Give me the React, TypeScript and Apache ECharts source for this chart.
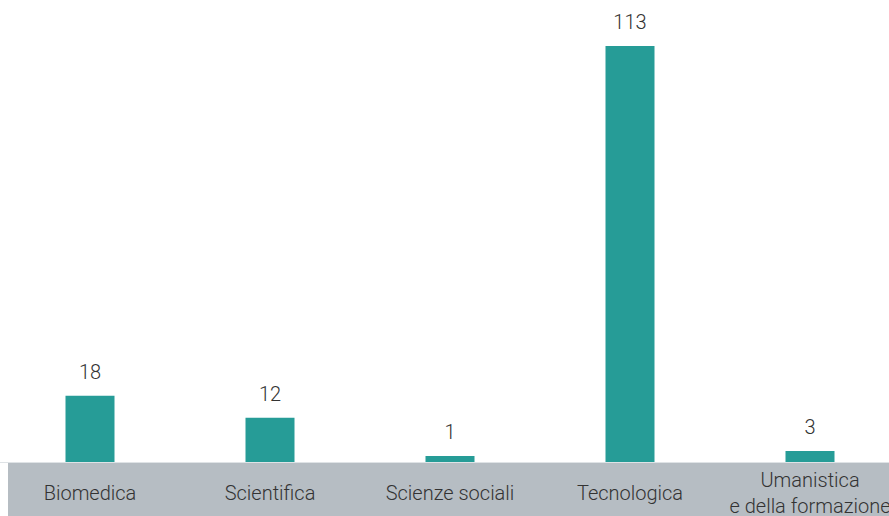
import React, { useEffect, useRef } from "react";
import * as echarts from "echarts";

const categories = ["Biomedica", "Scientifica", "Scienze sociali", "Tecnologica", "Umanistica\ne della formazione"];
const values = [18, 12, 1, 113, 3];

export default function App() {
  const ref = useRef<HTMLDivElement>(null);
  useEffect(() => {
    const chart = echarts.init(ref.current!, undefined, { renderer: "svg" });
    chart.setOption({
      animation: false,
      backgroundColor: "#ffffff",
      graphic: [
        {
          type: "rect",
          z: -10,
          shape: { x: 8, y: 462, width: 900, height: 60 },
          style: { fill: "#b6bdc3" },
        },
      ],
      grid: {
        left: 0,
        top: 46,
        right: 0,
        bottom: 54,
        containLabel: false,
        outerBoundsMode: "none",
      },
      xAxis: {
        type: "category",
        data: categories,
        axisLine: { show: true, lineStyle: { color: "#dfe3e6", width: 1 } },
        axisTick: { show: false },
        axisLabel: {
          interval: 0,
          color: "#333333",
          fontFamily: "Roboto",
          fontWeight: 300,
          fontSize: 20,
          lineHeight: 26,
          verticalAlign: "middle",
          margin: 31,
        },
      },
      yAxis: {
        type: "value",
        min: 0,
        max: 113,
        show: false,
        splitLine: { show: false },
      },
      series: [
        {
          type: "bar",
          data: values,
          barWidth: 49,
          barMinHeight: 6,
          itemStyle: { color: "#269c97" },
          label: {
            show: true,
            position: "top",
            distance: 14,
            color: "#333333",
            fontFamily: "Roboto",
            fontWeight: 300,
            fontSize: 20,
          },
        },
      ],
    });
    return () => chart.dispose();
  }, []);
  return (
    <div
      ref={ref}
      style={{ position: "fixed", left: 0, top: 0, width: 900, height: 516 }}
    />
  );
}
